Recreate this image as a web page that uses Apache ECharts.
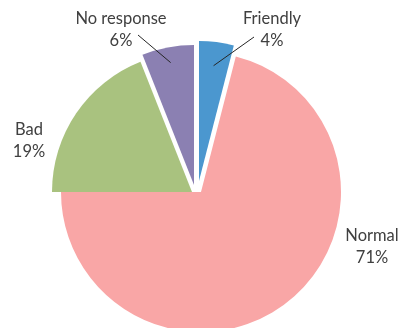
<!DOCTYPE html>
<html>
<head>
<meta charset="utf-8">
<script src="https://cdn.jsdelivr.net/npm/echarts@6/dist/echarts.min.js"></script>
<style>
  html, body { margin: 0; padding: 0; background: #ffffff; }
  #chart { width: 401px; height: 328px; }
</style>
</head>
<body>
<div id="chart"></div>
<script>
// Survey answers (percent of respondents)
const categories = ['Friendly', 'Normal', 'Bad', 'No response'];
const shares = [4, 71, 19, 6];
const colors = ['#4b97cf', '#f9a6a6', '#a9c27f', '#8b80b2'];

// Each slice is pulled out a little from the common centre
const sliceCenters = [[199, 181], [201, 192], [192, 192], [194, 185]];
const radius = 140;
// Centre of each two-line label
const labelSpots = [[272, 30], [372, 247], [29, 141], [121, 30]];
// Leader lines: how deep into the slice they reach (0 = no line) and where they meet the label
const leaderDepth = [0.83, 0, 0, 0.89];
const leaderEnd = [[-18, 7], null, null, [17, 5]];

const chart = echarts.init(document.getElementById('chart'), null, { renderer: 'canvas' });

const total = shares.reduce((a, b) => a + b, 0);
function midAngle(i) {
  let before = 0;
  for (let k = 0; k < i; k++) before += shares[k];
  return (before + shares[i] / 2) / total * 2 * Math.PI; // clockwise from 12 o'clock
}

const series = categories.map((_, i) => ({
  type: 'pie',
  center: sliceCenters[i],
  radius: radius,
  startAngle: 90,
  clockwise: true,
  silent: true,
  animation: false,
  percentPrecision: 0,
  emphasis: { disabled: true },
  label: {
    position: 'outside',
    formatter: '{b}\n{d}%',
    fontFamily: 'Lato, "Open Sans", sans-serif',
    fontSize: 16.5,
    lineHeight: 22,
    color: '#404040',
    overflow: 'none'
  },
  labelLine: { show: false },
  labelLayout: function (p) {
    const s = p.seriesIndex;
    if (p.dataIndex !== s) return {};
    const [lx, ly] = labelSpots[s];
    return { x: lx, y: ly, align: 'center', verticalAlign: 'middle' };
  },
  data: categories.map((name, j) => ({
    name: name,
    value: shares[j],
    itemStyle: { color: j === i ? colors[j] : 'rgba(0,0,0,0)', borderWidth: 0 },
    label: { show: j === i }
  }))
}));

// Leader lines from inside the small slices up to their labels
const leaders = [];
categories.forEach((_, i) => {
  if (!leaderDepth[i]) return;
  const a = midAngle(i);
  const [cx, cy] = sliceCenters[i];
  const r = radius * leaderDepth[i];
  leaders.push({
    type: 'line',
    silent: true,
    z: 10,
    shape: {
      x1: cx + Math.sin(a) * r,
      y1: cy - Math.cos(a) * r,
      x2: labelSpots[i][0] + leaderEnd[i][0],
      y2: labelSpots[i][1] + leaderEnd[i][1]
    },
    style: { stroke: '#262626', lineWidth: 1 }
  });
});

chart.setOption({
  backgroundColor: '#ffffff',
  animation: false,
  series: series,
  graphic: leaders
});
</script>
</body>
</html>
